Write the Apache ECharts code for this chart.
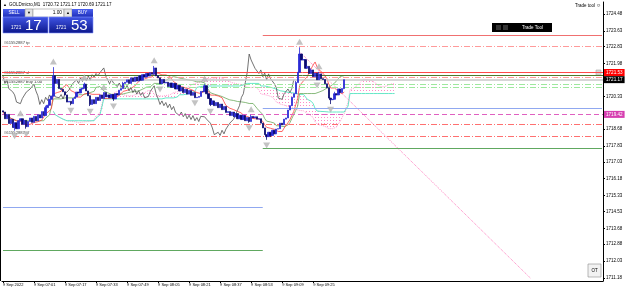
<!DOCTYPE html>
<html><head><meta charset="utf-8">
<script src="https://cdn.jsdelivr.net/npm/echarts/dist/echarts.min.js"></script>
<style>html,body{margin:0;padding:0;background:#fff}#c{width:625px;height:288px}</style>
</head><body><div id="c"></div>
<script>
// ---- data ----
const closes = [
1719.54,1719.20,1719.42,1718.96,1719.18,1718.76,1719.00,1718.70,1719.10,1719.20,
1718.92,1719.12,1718.80,1719.06,1719.24,1719.02,1719.32,1719.10,1719.40,1719.24,
1719.56,1719.36,1719.76,1719.88,1720.18,1720.34,1721.36,1720.98,1721.18,1720.72,
1720.68,1720.56,1720.40,1720.04,1720.08,1719.96,1720.22,1720.30,1720.54,1720.50,
1720.70,1720.74,1720.94,1720.60,1720.36,1719.92,1720.16,1719.96,1720.28,1720.12,
1720.40,1720.22,1720.52,1720.30,1720.40,1720.26,1720.42,1720.20,1720.46,1720.40,
1720.64,1720.72,1720.98,1721.04,1721.16,1720.98,1721.26,1721.08,1721.30,1721.10,
1721.36,1721.14,1721.42,1721.30,1721.48,1721.36,1721.52,1721.44,1721.76,1721.36,
1721.26,1720.96,1721.18,1721.00,1721.04,1720.82,1721.00,1720.78,1720.98,1720.70,
1720.88,1720.60,1720.78,1720.52,1720.68,1720.44,1720.62,1720.38,1720.52,1720.26,
1720.28,1720.32,1720.58,1720.56,1720.86,1720.46,1720.22,1719.92,1720.10,1719.86,
1720.02,1719.76,1719.94,1719.66,1719.82,1719.52,1719.56,1719.36,1719.54,1719.30,
1719.46,1719.20,1719.38,1719.16,1719.36,1719.10,1719.26,1719.06,1719.32,1719.24,
1719.30,1719.18,1719.20,1718.98,1718.74,1718.40,1718.30,1718.52,1718.36,1718.62,
1718.44,1718.68,1718.70,1718.98,1718.90,1719.18,1719.24,1719.64,1719.86,1720.28,
1720.46,1721.02,1721.54,1722.46,1722.16,1722.18,1721.74,1721.84,1721.48,1721.66,
1721.32,1721.50,1721.16,1721.46,1721.22,1721.18,1720.96,1720.76,1720.24,1720.16,
1720.18,1720.46,1720.40,1720.70,1720.52,1720.72,1721.17
];
const firstOpen = 1719.60;
const spikeHighs = {22:1719.86, 26:1721.80, 42:1721.02, 62:1721.06, 78:1721.86, 104:1720.94, 128:1719.40, 151:1721.10, 153:1722.80, 159:1721.74, 163:1721.56, 171:1720.56};
const spikeLows = {6:1718.60, 12:1718.70, 35:1719.88, 45:1719.84, 57:1720.10, 107:1719.84, 127:1719.00, 136:1718.14, 138:1718.28, 169:1719.94, 176:1720.69};
const totalBars = 310;
const xTickIdx = [0,16,32,48,64,80,96,112,128,144,160];
const xTickLabels = ["9 Sep 2022","9 Sep 07:01","9 Sep 07:17","9 Sep 07:33","9 Sep 07:49","9 Sep 08:05","9 Sep 08:21","9 Sep 08:37","9 Sep 08:53","9 Sep 09:09","9 Sep 09:25"];
const yTickValues = [1711.18,1712.03,1712.88,1713.68,1714.53,1715.33,1716.18,1717.03,1717.83,1718.68,1720.33,1721.98,1722.83,1723.63,1724.48];
const levelPrices = [1723.42,1722.87,1721.53,1721.41,1721.31,1721.17,1720.95,1720.80,1719.74,1719.42,1718.94,1718.33,1717.73,1714.76,1712.59];
const trendPoints = [[153,1722.57],[272,1711.18]];
const headerText = "GOLDmicro,M1  1720.72 1721.17 1720.69 1721.17";
const sellPrice = ["1721","17"], buyPrice = ["1721","53"], lotText = "1.00";

// ---- derived ----
const N = closes.length;
const opens = closes.map((c,i)=> i===0 ? firstOpen : closes[i-1]);
const highs = closes.map((c,i)=> spikeHighs[i] !== undefined ? spikeHighs[i] : Math.max(c, opens[i]));
const lows  = closes.map((c,i)=> spikeLows[i] !== undefined ? spikeLows[i] : Math.min(c, opens[i]));
const cats = Array.from({length: totalBars}, (_,i)=> String(i));
const candle = closes.map((c,i)=> [opens[i], c, lows[i], highs[i]]);
function mid(p,i){let h=-Infinity,l=Infinity;for(let k=Math.max(0,i-p+1);k<=i;k++){h=Math.max(h,highs[k]);l=Math.min(l,lows[k]);}return (h+l)/2;}
const tenkan = new Array(totalBars).fill(null), kijun = new Array(totalBars).fill(null);
const spanA = new Array(totalBars).fill(null), spanB = new Array(totalBars).fill(null), chikou = new Array(totalBars).fill(null);
for(let i=0;i<N;i++){
  tenkan[i]=mid(9,i); kijun[i]=mid(26,i);
  spanA[i+26]=(tenkan[i]+kijun[i])/2; spanB[i+26]=mid(52,i);
  if(i-26>=0) chikou[i-26]=closes[i];
}
const cloudBase = spanA.map((a,i)=> a===null ? null : Math.min(a, spanB[i]));
const cloudDiff = spanA.map((a,i)=> a===null ? null : Math.abs(a - spanB[i]));
const upFr=[], dnFr=[];
for(let i=2;i<N-2;i++){
  if(highs[i]>highs[i-1]&&highs[i]>highs[i-2]&&highs[i]>=highs[i+1]&&highs[i]>=highs[i+2]) upFr.push([i,highs[i]]);
  if(lows[i]<lows[i-1]&&lows[i]<lows[i-2]&&lows[i]<=lows[i+1]&&lows[i]<=lows[i+2]) dnFr.push([i,lows[i]]);
}
function dots(color){const c=document.createElement('canvas');c.width=3;c.height=3;const g=c.getContext('2d');g.fillStyle=color;g.fillRect(0,0,1,1);return {image:c,repeat:'repeat'};}

const L = (i, color, type, from, to, extra) => Object.assign({i, color, type, from, to}, extra||{});
const DD = [6,2,1,2];
const levelStyles = [
  L(0,'#f07070','solid',134,totalBars-1),
  L(1,'#ff9a9a',DD,null,null),
  L(2,'#ff4a4a','solid',null,null,{box:'#ff0000'}),
  L(3,'#4f7a2a','solid',null,null),
  L(4,'#ff9a9a',DD,null,null),
  L(5,'#c8c8c8','solid',null,null,{box:'#000000'}),
  L(6,'#9ee89e',DD,null,null),
  L(7,'#9ee89e',DD,null,null),
  L(8,'#90a8f0','solid',134,totalBars-1),
  L(9,'#e060c0',[5,3],null,null,{box:'#d63fb0'}),
  L(10,'#ff7070',DD,null,null),
  L(11,'#ff7070',DD,null,null),
  L(12,'#60a860','solid',134,totalBars-1),
  L(13,'#90a8f0','solid',0,134),
  L(14,'#60a860','solid',0,134)
];
const F = 'Liberation Sans';
const mlData = levelStyles.map(s=>{
  const p = levelPrices[s.i];
  const ls = {color:s.color, type:s.type, width: s.i===5?1.5:1};
  const lab = s.box ? {show:true, position:'end', distance:1, formatter: p.toFixed(2), color:'#fff', backgroundColor:s.box, padding:[1,2,1,2], fontSize:4.6, fontFamily:F} : {show:false};
  if(s.from===null) return {yAxis:p, lineStyle:ls, label:lab};
  return [{coord:[s.from,p], lineStyle:ls, label:lab},{coord:[s.to,p]}];
});

const chart = echarts.init(document.getElementById('c'), null, {renderer:'canvas'});
const blueGrad = new echarts.graphic.LinearGradient(0,0,0,1,[{offset:0,color:'#4156e6'},{offset:1,color:'#0b168a'}]);
const btnBlue = new echarts.graphic.LinearGradient(0,0,0,1,[{offset:0,color:'#4a5ff0'},{offset:1,color:'#1f2fb8'}]);
const txt = (x,y,t,size,fill,align,extra)=>Object.assign({type:'text',x,y,silent:true,style:{text:t,fontSize:size,fontFamily:F,fill:fill||'#000',textAlign:align||'left',textVerticalAlign:'middle'}},extra||{});
const rect = (x,y,w,h,fill,stroke)=>({type:'rect',shape:{x,y,width:w,height:h},silent:true,style:{fill,stroke:stroke||null,lineWidth:stroke?0.6:0}});

chart.setOption({
  animation:false,
  backgroundColor:'#fff',
  grid:{left:2,right:22,top:2,bottom:7,containLabel:false,outerBoundsMode:'none'},
  xAxis:{type:'category',data:cats,boundaryGap:true,
    axisLine:{lineStyle:{color:'#000',width:1}},
    axisTick:{show:true,length:2,alignWithLabel:true,interval:(idx)=>xTickIdx.includes(idx),lineStyle:{color:'#000'}},
    axisLabel:{interval:(idx)=>xTickIdx.includes(idx),formatter:(v,idx)=>{const k=xTickIdx.indexOf(Number(v));return k>=0?xTickLabels[k]:'';},
      align:'left',margin:2,fontSize:4,fontFamily:F,color:'#000',hideOverlap:false},
    splitLine:{show:false}},
  yAxis:{type:'value',position:'right',min:1711.03,max:1725.08,
    axisLine:{show:true,lineStyle:{color:'#000',width:1}},
    axisTick:{show:true,length:2,customValues:yTickValues,lineStyle:{color:'#000'}},
    axisLabel:{customValues:yTickValues,formatter:v=>v.toFixed(2),fontSize:4.5,fontFamily:F,color:'#000',margin:3},
    splitLine:{show:false}},
  series:[
    {type:'line',data:cloudBase,stack:'cloud',showSymbol:false,lineStyle:{opacity:0},silent:true,z:1},
    {type:'line',data:cloudDiff,stack:'cloud',showSymbol:false,lineStyle:{opacity:0},areaStyle:{color:dots('#ff8cc8'),opacity:1},silent:true,z:1},
    {type:'line',data:spanA,showSymbol:false,lineStyle:{color:'#ff9ccf',width:1,type:'dotted'},silent:true,z:2},
    {type:'line',data:spanB,showSymbol:false,lineStyle:{color:'#66e8c8',width:1},silent:true,z:2},
    {type:'line',data:kijun,showSymbol:false,lineStyle:{color:'#6aa85a',width:0.8},silent:true,z:3},
    {type:'line',data:tenkan,showSymbol:false,lineStyle:{color:'#ff4040',width:0.8},silent:true,z:3},
    {type:'line',data:chikou,showSymbol:false,lineStyle:{color:'#505050',width:0.8},silent:true,z:3},
    {type:'line',data:[],silent:true,z:4,markLine:{silent:true,symbol:'none',animation:false,data:mlData}},
    {type:'line',data:trendPoints,showSymbol:false,lineStyle:{color:'#ff80c0',width:1,type:'dotted'},silent:true,z:4},
    {type:'candlestick',data:candle,barWidth:1.8,z:6,
      itemStyle:{color:'#2a2ad4',color0:'#0a0a70',borderColor:'#2a2ad4',borderColor0:'#0a0a70',borderWidth:0.8}},
    {type:'scatter',data:upFr,symbol:'emptyTriangle',symbolSize:[3.5,3],symbolOffset:[0,-5],itemStyle:{color:'#b4b4b4'},silent:true,z:7},
    {type:'scatter',data:dnFr,symbol:'emptyTriangle',symbolSize:[3.5,3],symbolRotate:180,symbolOffset:[0,5],itemStyle:{color:'#b4b4b4'},silent:true,z:7}
  ],
  graphic:[
    {type:'line',shape:{x1:0.5,y1:0,x2:0.5,y2:281},style:{stroke:'#000',lineWidth:1},silent:true},
    txt(3,5,'▲',4,'#000'),
    txt(9,5,headerText,4.5,'#000'),
    rect(3,9,22,8,btnBlue),
    txt(14,13,'SELL',4.6,'#fff','center'),
    rect(25,9,8,8,'#e4e4e4','#8a8a8a'),
    txt(29,13,'▼',4,'#000','center'),
    rect(33,9,31,8,'#fff','#9a9a9a'),
    txt(62,13,lotText,4.8,'#000','right'),
    rect(64,9,8,8,'#e4e4e4','#8a8a8a'),
    txt(68,13,'▲',4,'#000','center'),
    rect(72,9,21,8,btnBlue),
    txt(82.5,13,'BUY',4.6,'#fff','center'),
    rect(3,17,45,16,blueGrad,'#8090ff'),
    rect(49,17,44,16,blueGrad,'#8090ff'),
    txt(11,28,sellPrice[0],4.6,'#fff'),
    txt(25,25.5,sellPrice[1],15,'#fff'),
    txt(56,28,buyPrice[0],4.6,'#fff'),
    txt(71,25.5,buyPrice[1],15,'#fff'),
    txt(4,43,'#61552887 tp',4.2,'#444'),
    txt(4,73,'#61552887 sl',4.2,'#444'),
    txt(4,82,'#61552887 buy 1.00',4.2,'#333'),
    txt(4,133,'#61552887 sl',4.2,'#444'),
    txt(595,6,'Trade tool',4.5,'#000','right'),
    txt(598.5,6,'☺',5,'#000','center'),
    rect(492,23,60,9,'#000'),
    rect(496,25,5,5,'#333'),
    rect(503,25,5,5,'#333'),
    txt(522,27.5,'Trade Tool',4.5,'#fff'),
    rect(596,70,5,5,'#d8d8d8','#aaa'),
    rect(588,264,13,13,'#f2f2f2','#8a8a8a'),
    txt(594.5,270.5,'OT',4.5,'#000','center')
  ]
});
</script></body></html>
